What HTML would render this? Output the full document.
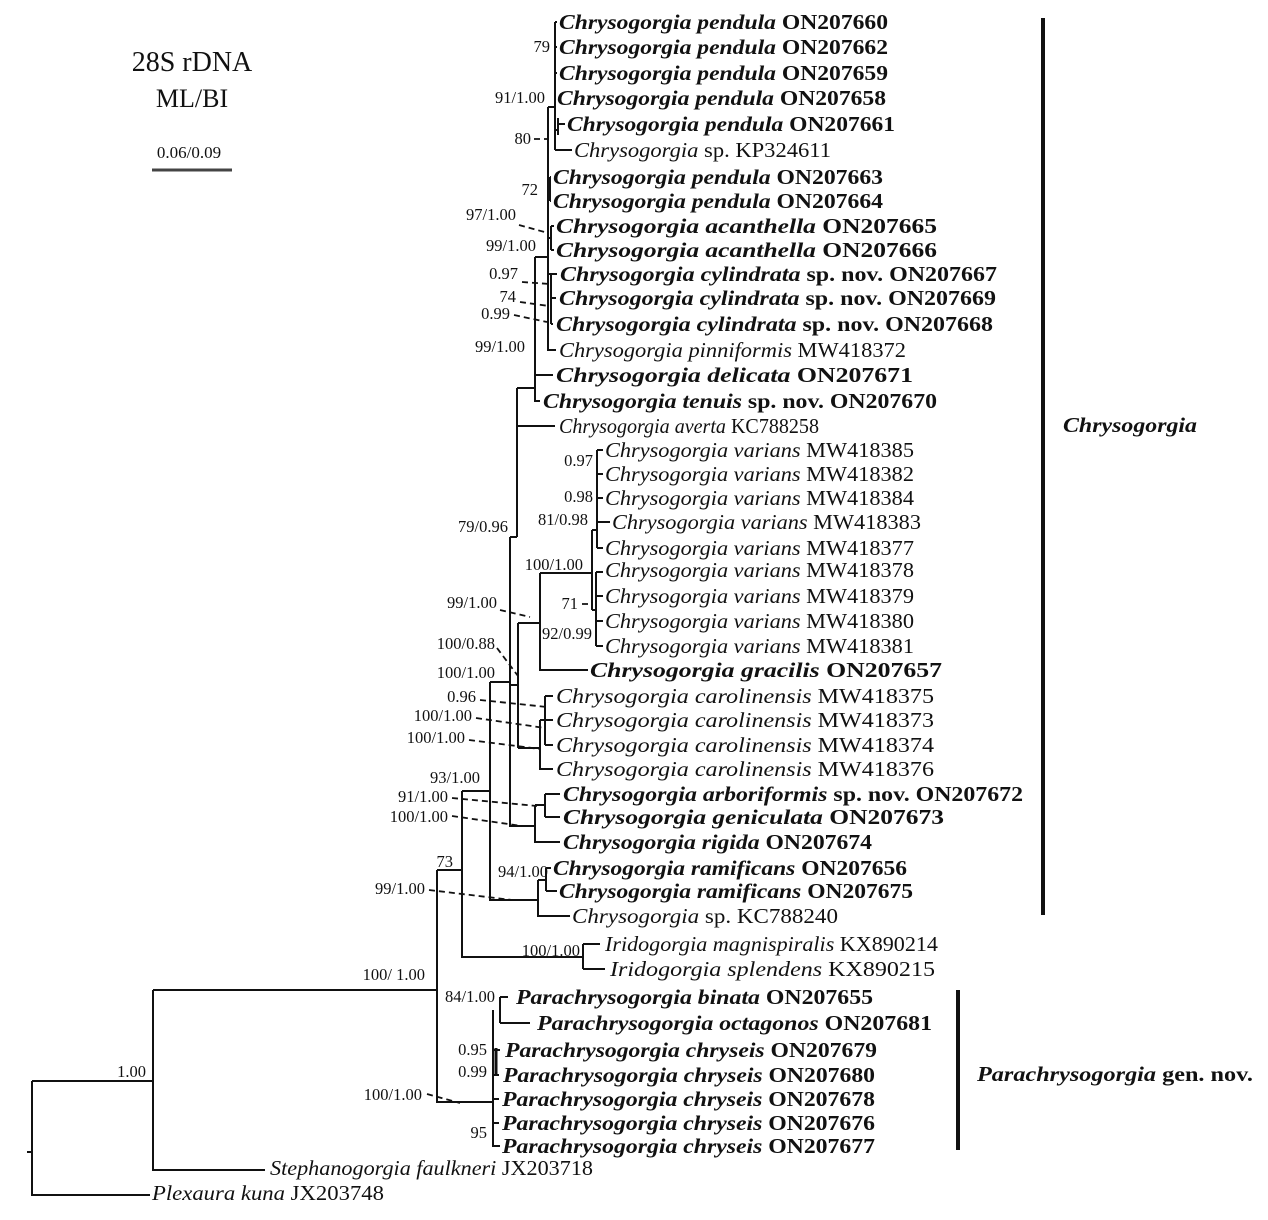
<!DOCTYPE html>
<html><head><meta charset="utf-8"><style>
html,body{margin:0;padding:0;background:#fff}
svg{display:block}
text{font-family:"Liberation Serif",serif;fill:#111}
.t{font-size:21px;font-style:italic}
.b{font-weight:bold}
.n{font-style:normal}
.s{font-size:16.5px}
</style></head><body>
<svg width="1268" height="1220" viewBox="0 0 1268 1220" xmlns="http://www.w3.org/2000/svg">
<g stroke="#111" stroke-width="2" fill="none">
<path d="M27 1152H32M32 1081V1195H150M32 1081H153M153 990V1170H265M153 990H437"/>
<path d="M437 870V1102H493M437 870H462"/>
<path d="M493 1010V1146H500M500 997V1023M500 997H508M500 1023H530M493 1050H500M493 1075H499M493 1099H499M493 1123H499"/>
<path d="M496 1048V1076" stroke-width="3"/>
<path d="M462 791V957H583M583 944V969M583 944H600M583 969H605"/>
<path d="M462 791H490M490 682V900H538M538 880V916H570M538 880H546M546 868V891M546 868H551M546 891H557"/>
<path d="M490 682H510M510 537V826H535M535 805V842H560M535 805H545M545 794V817M545 794H560M545 817H560"/>
<path d="M510 685H518M518 623V748M518 623H540M540 573V670H588M540 573H592M592 530V610M592 530H597M597 450V548M597 450H603M597 474H603M597 498H603M597 522H610M597 548H603M592 610H596M596 572V646M596 572H603M596 596H603M596 621H603M596 646H603"/>
<path d="M518 748H540M540 720V769H553M540 720H545M545 696V745M545 696H553M545 720H553M545 745H553"/>
<path d="M510 537H517M517 388V537M517 426H555M517 388H535M535 257V401H540M535 375H553M535 257H548M548 107V350H556"/>
<path d="M548 274H551M551 274V324M551 274H557M551 298H556M551 324H553M548 238H551M551 226V250M551 226H554M551 250H554M548 189H550M550 177V201M550 177H551M550 201H551M548 107H555M555 22V150M555 22H557M555 47H557M555 73H557M555 98H555M555 150H572M555 130H558M558 118V135M558 124H565"/>
<g stroke-dasharray="6,4" stroke-width="1.8">
<path d="M534 139H548M519 225L548 233M522 282L550 284M520 302L549 306M514 315L547 322M500 610L530 617M582 604H593M497 648L518 676M480 700L547 707M476 718L545 728M469 740L540 749M452 798L537 806M452 816L522 826M429 890L512 900M427 1094L460 1103"/>
</g>
<path d="M1043 18V915M958 990V1150" stroke-width="4"/>
<path d="M152 170H232" stroke-width="3" stroke="#444"/>
</g>
<text x="192" y="71" font-size="28" text-anchor="middle">28S rDNA</text>
<text x="192" y="107" font-size="26" text-anchor="middle">ML/BI</text>
<text x="189" y="158" font-size="17" text-anchor="middle">0.06/0.09</text>
<g class="t">
<text x="559" y="29" textLength="329" lengthAdjust="spacingAndGlyphs" class="b">Chrysogorgia pendula <tspan class="n">ON207660</tspan></text>
<text x="559" y="54" textLength="329" lengthAdjust="spacingAndGlyphs" class="b">Chrysogorgia pendula <tspan class="n">ON207662</tspan></text>
<text x="559" y="80" textLength="329" lengthAdjust="spacingAndGlyphs" class="b">Chrysogorgia pendula <tspan class="n">ON207659</tspan></text>
<text x="557" y="105" textLength="329" lengthAdjust="spacingAndGlyphs" class="b">Chrysogorgia pendula <tspan class="n">ON207658</tspan></text>
<text x="567" y="131" textLength="328" lengthAdjust="spacingAndGlyphs" class="b">Chrysogorgia pendula <tspan class="n">ON207661</tspan></text>
<text x="574" y="157" textLength="257" lengthAdjust="spacingAndGlyphs">Chrysogorgia <tspan class="n">sp. KP324611</tspan></text>
<text x="553" y="184" textLength="330" lengthAdjust="spacingAndGlyphs" class="b">Chrysogorgia pendula <tspan class="n">ON207663</tspan></text>
<text x="553" y="208" textLength="330" lengthAdjust="spacingAndGlyphs" class="b">Chrysogorgia pendula <tspan class="n">ON207664</tspan></text>
<text x="556" y="233" textLength="381" lengthAdjust="spacingAndGlyphs" class="b">Chrysogorgia acanthella <tspan class="n">ON207665</tspan></text>
<text x="556" y="257" textLength="381" lengthAdjust="spacingAndGlyphs" class="b">Chrysogorgia acanthella <tspan class="n">ON207666</tspan></text>
<text x="560" y="281" textLength="437" lengthAdjust="spacingAndGlyphs" class="b">Chrysogorgia cylindrata <tspan class="n">sp. nov. ON207667</tspan></text>
<text x="559" y="305" textLength="437" lengthAdjust="spacingAndGlyphs" class="b">Chrysogorgia cylindrata <tspan class="n">sp. nov. ON207669</tspan></text>
<text x="556" y="331" textLength="437" lengthAdjust="spacingAndGlyphs" class="b">Chrysogorgia cylindrata <tspan class="n">sp. nov. ON207668</tspan></text>
<text x="559" y="357" textLength="347" lengthAdjust="spacingAndGlyphs">Chrysogorgia pinniformis <tspan class="n">MW418372</tspan></text>
<text x="556" y="382" textLength="357" lengthAdjust="spacingAndGlyphs" class="b">Chrysogorgia delicata <tspan class="n">ON207671</tspan></text>
<text x="543" y="408" textLength="394" lengthAdjust="spacingAndGlyphs" class="b">Chrysogorgia tenuis <tspan class="n">sp. nov. ON207670</tspan></text>
<text x="559" y="433" textLength="260" lengthAdjust="spacingAndGlyphs">Chrysogorgia averta <tspan class="n">KC788258</tspan></text>
<text x="605" y="457" textLength="309" lengthAdjust="spacingAndGlyphs">Chrysogorgia varians <tspan class="n">MW418385</tspan></text>
<text x="605" y="481" textLength="309" lengthAdjust="spacingAndGlyphs">Chrysogorgia varians <tspan class="n">MW418382</tspan></text>
<text x="605" y="505" textLength="309" lengthAdjust="spacingAndGlyphs">Chrysogorgia varians <tspan class="n">MW418384</tspan></text>
<text x="612" y="529" textLength="309" lengthAdjust="spacingAndGlyphs">Chrysogorgia varians <tspan class="n">MW418383</tspan></text>
<text x="605" y="555" textLength="309" lengthAdjust="spacingAndGlyphs">Chrysogorgia varians <tspan class="n">MW418377</tspan></text>
<text x="605" y="577" textLength="309" lengthAdjust="spacingAndGlyphs">Chrysogorgia varians <tspan class="n">MW418378</tspan></text>
<text x="605" y="603" textLength="309" lengthAdjust="spacingAndGlyphs">Chrysogorgia varians <tspan class="n">MW418379</tspan></text>
<text x="605" y="628" textLength="309" lengthAdjust="spacingAndGlyphs">Chrysogorgia varians <tspan class="n">MW418380</tspan></text>
<text x="605" y="653" textLength="309" lengthAdjust="spacingAndGlyphs">Chrysogorgia varians <tspan class="n">MW418381</tspan></text>
<text x="590" y="677" textLength="352" lengthAdjust="spacingAndGlyphs" class="b">Chrysogorgia gracilis <tspan class="n">ON207657</tspan></text>
<text x="556" y="703" textLength="378" lengthAdjust="spacingAndGlyphs">Chrysogorgia carolinensis <tspan class="n">MW418375</tspan></text>
<text x="556" y="727" textLength="378" lengthAdjust="spacingAndGlyphs">Chrysogorgia carolinensis <tspan class="n">MW418373</tspan></text>
<text x="556" y="752" textLength="378" lengthAdjust="spacingAndGlyphs">Chrysogorgia carolinensis <tspan class="n">MW418374</tspan></text>
<text x="556" y="776" textLength="378" lengthAdjust="spacingAndGlyphs">Chrysogorgia carolinensis <tspan class="n">MW418376</tspan></text>
<text x="563" y="801" textLength="460" lengthAdjust="spacingAndGlyphs" class="b">Chrysogorgia arboriformis <tspan class="n">sp. nov. ON207672</tspan></text>
<text x="563" y="824" textLength="381" lengthAdjust="spacingAndGlyphs" class="b">Chrysogorgia geniculata <tspan class="n">ON207673</tspan></text>
<text x="563" y="849" textLength="309" lengthAdjust="spacingAndGlyphs" class="b">Chrysogorgia rigida <tspan class="n">ON207674</tspan></text>
<text x="553" y="875" textLength="354" lengthAdjust="spacingAndGlyphs" class="b">Chrysogorgia ramificans <tspan class="n">ON207656</tspan></text>
<text x="559" y="898" textLength="354" lengthAdjust="spacingAndGlyphs" class="b">Chrysogorgia ramificans <tspan class="n">ON207675</tspan></text>
<text x="572" y="923" textLength="266" lengthAdjust="spacingAndGlyphs">Chrysogorgia  <tspan class="n">sp. KC788240</tspan></text>
<text x="605" y="951" textLength="333" lengthAdjust="spacingAndGlyphs">Iridogorgia magnispiralis <tspan class="n">KX890214</tspan></text>
<text x="610" y="976" textLength="325" lengthAdjust="spacingAndGlyphs">Iridogorgia splendens <tspan class="n">KX890215</tspan></text>
<text x="516" y="1004" textLength="357" lengthAdjust="spacingAndGlyphs" class="b">Parachrysogorgia binata <tspan class="n">ON207655</tspan></text>
<text x="537" y="1030" textLength="395" lengthAdjust="spacingAndGlyphs" class="b">Parachrysogorgia octagonos <tspan class="n">ON207681</tspan></text>
<text x="505" y="1057" textLength="372" lengthAdjust="spacingAndGlyphs" class="b">Parachrysogorgia chryseis <tspan class="n">ON207679</tspan></text>
<text x="503" y="1082" textLength="372" lengthAdjust="spacingAndGlyphs" class="b">Parachrysogorgia chryseis <tspan class="n">ON207680</tspan></text>
<text x="502" y="1106" textLength="373" lengthAdjust="spacingAndGlyphs" class="b">Parachrysogorgia chryseis <tspan class="n">ON207678</tspan></text>
<text x="502" y="1130" textLength="373" lengthAdjust="spacingAndGlyphs" class="b">Parachrysogorgia chryseis <tspan class="n">ON207676</tspan></text>
<text x="502" y="1153" textLength="373" lengthAdjust="spacingAndGlyphs" class="b">Parachrysogorgia chryseis <tspan class="n">ON207677</tspan></text>
<text x="270" y="1175" textLength="323" lengthAdjust="spacingAndGlyphs">Stephanogorgia faulkneri <tspan class="n">JX203718</tspan></text>
<text x="152" y="1200" textLength="232" lengthAdjust="spacingAndGlyphs">Plexaura kuna <tspan class="n">JX203748</tspan></text>
<text x="1063" y="432" textLength="134" lengthAdjust="spacingAndGlyphs" class="b">Chrysogorgia</text>
<text x="977" y="1081" textLength="276" lengthAdjust="spacingAndGlyphs" class="b">Parachrysogorgia <tspan class="n">gen. nov.</tspan></text>
</g>
<g class="s" text-anchor="end">
<text x="550" y="52">79</text>
<text x="545" y="103">91/1.00</text>
<text x="531" y="144">80</text>
<text x="538" y="195">72</text>
<text x="516" y="220">97/1.00</text>
<text x="536" y="251">99/1.00</text>
<text x="518" y="279">0.97</text>
<text x="516" y="302">74</text>
<text x="510" y="319">0.99</text>
<text x="525" y="352">99/1.00</text>
<text x="593" y="466">0.97</text>
<text x="593" y="502">0.98</text>
<text x="508" y="532">79/0.96</text>
<text x="588" y="525">81/0.98</text>
<text x="583" y="570">100/1.00</text>
<text x="497" y="608">99/1.00</text>
<text x="578" y="609">71</text>
<text x="592" y="639">92/0.99</text>
<text x="495" y="649">100/0.88</text>
<text x="495" y="678">100/1.00</text>
<text x="476" y="702">0.96</text>
<text x="472" y="721">100/1.00</text>
<text x="465" y="743">100/1.00</text>
<text x="480" y="783">93/1.00</text>
<text x="448" y="802">91/1.00</text>
<text x="448" y="822">100/1.00</text>
<text x="453" y="867">73</text>
<text x="548" y="877">94/1.00</text>
<text x="425" y="894">99/1.00</text>
<text x="580" y="956">100/1.00</text>
<text x="425" y="980">100/ 1.00</text>
<text x="495" y="1002">84/1.00</text>
<text x="487" y="1055">0.95</text>
<text x="487" y="1077">0.99</text>
<text x="422" y="1100">100/1.00</text>
<text x="487" y="1138">95</text>
<text x="146" y="1077">1.00</text>
</g>
</svg>
</body></html>
